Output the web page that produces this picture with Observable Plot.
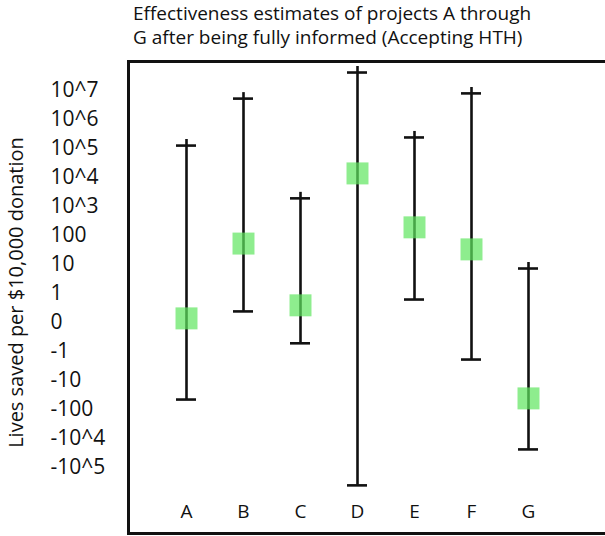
<!DOCTYPE html>
<html>
<head>
<meta charset="utf-8">
<script src="https://cdn.jsdelivr.net/npm/d3@7"></script>
<script src="https://cdn.jsdelivr.net/npm/@observablehq/plot@0.6"></script>
<style>
  html, body { margin: 0; padding: 0; background: #fff; }
  body { width: 605px; height: 536px; overflow: hidden; position: relative; font-family: "Open Sans", sans-serif; }
  #title { position: absolute; left: 133px; top: 1px; font-size: 19px; line-height: 24px; white-space: nowrap; color: #111; }
  #chart { position: absolute; left: 0; top: 50px; }
</style>
</head>
<body>
<div id="title">Effectiveness estimates of projects A through<br>G after being fully informed (Accepting HTH)</div>
<div id="chart"></div>
<script>
// Categories (projects)
const categories = ["A", "B", "C", "D", "E", "F", "G"];
// Values in tick-index units on the hand-drawn axis (1 → 0, 10 → 1, 0 → -1, -1 → -2 ...)
const estimate = [-0.86, 1.72, -0.41, 4.14, 2.28, 1.52, -3.62];
const high     = [5.10, 6.72, 3.28, 7.62, 5.38, 6.90, 0.86];
const low      = [-3.66, -0.62, -1.72, -6.62, -0.21, -2.28, -5.38];
// Y tick positions and their labels
const tickValues = [-6, -5, -4, -3, -2, -1, 0, 1, 2, 3, 4, 5, 6, 7];
const tickLabels = ["-10^5", "-10^4", "-100", "-10", "-1", "0", "1", "10", "100", "10^3", "10^4", "10^5", "10^6", "10^7"];
const yLabel = "Lives saved per $10,000 donation";

const data = categories.map((c, i) => ({cat: c, est: estimate[i], high: high[i], low: low[i]}));
const labelOf = new Map(tickValues.map((v, i) => [v, tickLabels[i]]));

const plot = Plot.plot({
  width: 605,
  height: 486,
  marginLeft: 128,
  marginRight: 0,
  marginTop: 11,
  marginBottom: 3,
  style: {fontFamily: "'Open Sans', sans-serif", color: "#111", background: "#fff"},
  x: {type: "point", domain: categories, padding: 1.184, align: 0.43, axis: null},
  y: {domain: [-8.28, 8.0], axis: null},
  marks: [
    Plot.axisY({
      ticks: tickValues,
      tickFormat: d => labelOf.get(d),
      tickSize: 0,
      tickPadding: 78,
      textAnchor: "start",
      fontSize: 21,
      label: null
    }),
    Plot.text([yLabel], {frameAnchor: "left", textAnchor: "middle", dx: -112, dy: -5, rotate: -90, fontSize: 20, fill: "#111"}),
    Plot.text(categories, {x: d => d, frameAnchor: "bottom", dy: -16, fontSize: 19, fill: "#111"}),
    Plot.ruleX(data, {x: "cat", y1: "high", y2: "low", stroke: "#111", strokeWidth: 2.6, insetTop: -6}),
    Plot.ruleY(data, {x1: "cat", x2: "cat", y: "high", stroke: "#111", strokeWidth: 2.6, insetLeft: -10, insetRight: -10}),
    Plot.ruleY(data, {x1: "cat", x2: "cat", y: "low", stroke: "#111", strokeWidth: 2.6, insetLeft: -10, insetRight: -10}),
    Plot.dot(data, {x: "cat", y: "est", symbol: "square", r: 12.4, fill: "#5ee65e", fillOpacity: 0.7, stroke: "none"}),
    Plot.frame({anchor: "top", stroke: "#111", strokeWidth: 3}),
    Plot.frame({anchor: "left", stroke: "#111", strokeWidth: 3}),
    Plot.frame({anchor: "bottom", stroke: "#111", strokeWidth: 3})
  ]
});
document.getElementById("chart").appendChild(plot);
</script>
</body>
</html>
